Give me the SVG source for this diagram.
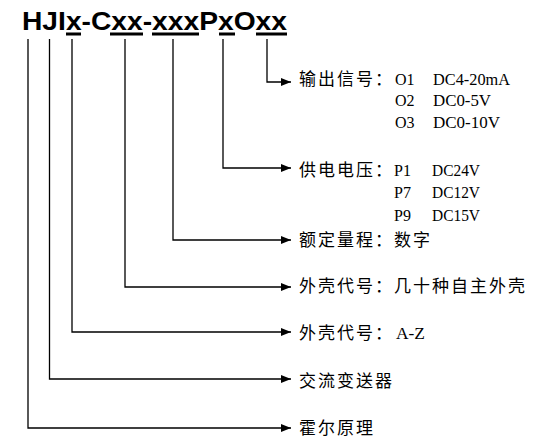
<svg xmlns="http://www.w3.org/2000/svg" width="560" height="440" viewBox="0 0 560 440">
<defs>
<marker id="arr" markerWidth="10" markerHeight="8" refX="10" refY="4" orient="auto" markerUnits="userSpaceOnUse">
<path d="M0,0 L10,4 L0,8 Z" fill="#000"/>
</marker>
<style>
.title{font-family:"Liberation Sans",Arial,sans-serif;font-weight:bold;font-size:25px;fill:#000}
.cn{font-family:"Noto Sans CJK SC",sans-serif;font-size:17px;letter-spacing:2px;fill:#000}
.en{font-family:"Liberation Serif","Times New Roman",serif;font-size:16px;letter-spacing:0;fill:#000}
.ln{fill:none;stroke:#000;stroke-width:1.3}
.ul{fill:#000}
</style>
</defs>
<rect width="560" height="440" fill="#fff"/>
<g id="title">
<text class="title" x="22" y="30" textLength="265" lengthAdjust="spacingAndGlyphs">HJIx-Cxx-xxxPxOxx</text>
<rect class="ul" x="66" y="32.5" width="15" height="3"/>
<rect class="ul" x="110" y="32.5" width="33" height="3"/>
<rect class="ul" x="152" y="32.5" width="47" height="3"/>
<rect class="ul" x="219" y="32.5" width="16" height="3"/>
<rect class="ul" x="256" y="32.5" width="31" height="3"/>
</g>
<g id="connectors">
<path class="ln" d="M267,39 V82 H291" marker-end="url(#arr)"/>
<path class="ln" d="M223,39 V168 H291" marker-end="url(#arr)"/>
<path class="ln" d="M173,39 V240 H291" marker-end="url(#arr)"/>
<path class="ln" d="M125,39 V287 H291" marker-end="url(#arr)"/>
<path class="ln" d="M72,39 V332 H291" marker-end="url(#arr)"/>
<path class="ln" d="M49.5,39 V379 H291" marker-end="url(#arr)"/>
<path class="ln" d="M28,39 V428 H291" marker-end="url(#arr)"/>
</g>
<g id="output">
<text class="cn" x="299" y="85">输出信号：</text>
<text class="en" x="395" y="85">O1</text>
<text class="en" x="433" y="85" textLength="77" lengthAdjust="spacingAndGlyphs">DC4-20mA</text>
<text class="en" x="395" y="106">O2</text>
<text class="en" x="433" y="106" textLength="58" lengthAdjust="spacingAndGlyphs">DC0-5V</text>
<text class="en" x="395" y="128">O3</text>
<text class="en" x="433" y="128" textLength="67" lengthAdjust="spacingAndGlyphs">DC0-10V</text>
</g>
<g id="power">
<text class="cn" x="299" y="176">供电电压：</text>
<text class="en" x="394" y="176">P1</text>
<text class="en" x="432" y="176" textLength="48" lengthAdjust="spacingAndGlyphs">DC24V</text>
<text class="en" x="394" y="198">P7</text>
<text class="en" x="432" y="198" textLength="48" lengthAdjust="spacingAndGlyphs">DC12V</text>
<text class="en" x="394" y="221">P9</text>
<text class="en" x="432" y="221" textLength="48" lengthAdjust="spacingAndGlyphs">DC15V</text>
</g>
<g id="range">
<text class="cn" x="299" y="246">额定量程：数字</text>
</g>
<g id="shell1">
<text class="cn" x="299" y="292">外壳代号：几十种自主外壳</text>
</g>
<g id="shell2">
<text class="cn" x="299" y="339">外壳代号：</text>
<text class="en" x="396" y="339" textLength="29" lengthAdjust="spacingAndGlyphs">A-Z</text>
</g>
<g id="ac">
<text class="cn" x="299" y="387">交流变送器</text>
</g>
<g id="hall">
<text class="cn" x="299" y="434">霍尔原理</text>
</g>
</svg>
